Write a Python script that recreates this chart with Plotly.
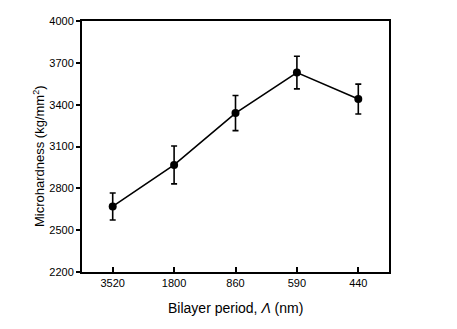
import plotly.graph_objects as go

# Bilayer period categories (nm) and measured microhardness
periods = ["3520", "1800", "860", "590", "440"]
hardness = [2670, 2968, 3340, 3630, 3440]
hardness_err = [97, 136, 126, 117, 107]

y_ticks = [2200, 2500, 2800, 3100, 3400, 3700, 4000]

font_family = "Liberation Sans, Arial, sans-serif"

fig = go.Figure()
fig.add_trace(go.Scatter(
    x=list(range(len(periods))),
    y=hardness,
    mode="lines+markers",
    line=dict(color="black", width=1.6),
    marker=dict(color="black", size=8),
    error_y=dict(type="data", array=hardness_err, visible=True,
                 color="black", thickness=1.6, width=3),
    showlegend=False,
))

fig.update_layout(
    width=457, height=329,
    margin=dict(l=82, r=68, t=21, b=57),
    paper_bgcolor="white", plot_bgcolor="white",
    font=dict(family=font_family, color="black", size=11),
    xaxis=dict(
        range=[-0.5, len(periods) - 0.5],
        tickmode="array",
        tickvals=list(range(len(periods))),
        ticktext=periods,
        ticks="inside", ticklen=5, tickwidth=1.5, tickcolor="black",
        showline=True, linecolor="black", linewidth=2, mirror=True,
        showgrid=False, zeroline=False,
        tickfont=dict(size=11),
    ),
    yaxis=dict(
        range=[2200, 4000],
        tickmode="array",
        tickvals=y_ticks,
        ticks="outside", ticklen=4, tickwidth=1.5, tickcolor="black",
        showline=True, linecolor="black", linewidth=2, mirror=True,
        showgrid=False, zeroline=False,
        tickfont=dict(size=11),
    ),
)

fig.add_annotation(
    text="Bilayer period, <i>Λ</i> (nm)",
    xref="paper", yref="paper", x=0.5, y=0, yshift=-36,
    xanchor="center", yanchor="middle", showarrow=False,
    font=dict(size=14),
)
fig.add_annotation(
    text="Microhardness (kg/mm<sup>2</sup>)",
    xref="paper", yref="paper", x=0, xshift=-43, y=0.462,
    xanchor="center", yanchor="middle", showarrow=False,
    textangle=-90, font=dict(size=13),
)

fig.write_html("out.html")
